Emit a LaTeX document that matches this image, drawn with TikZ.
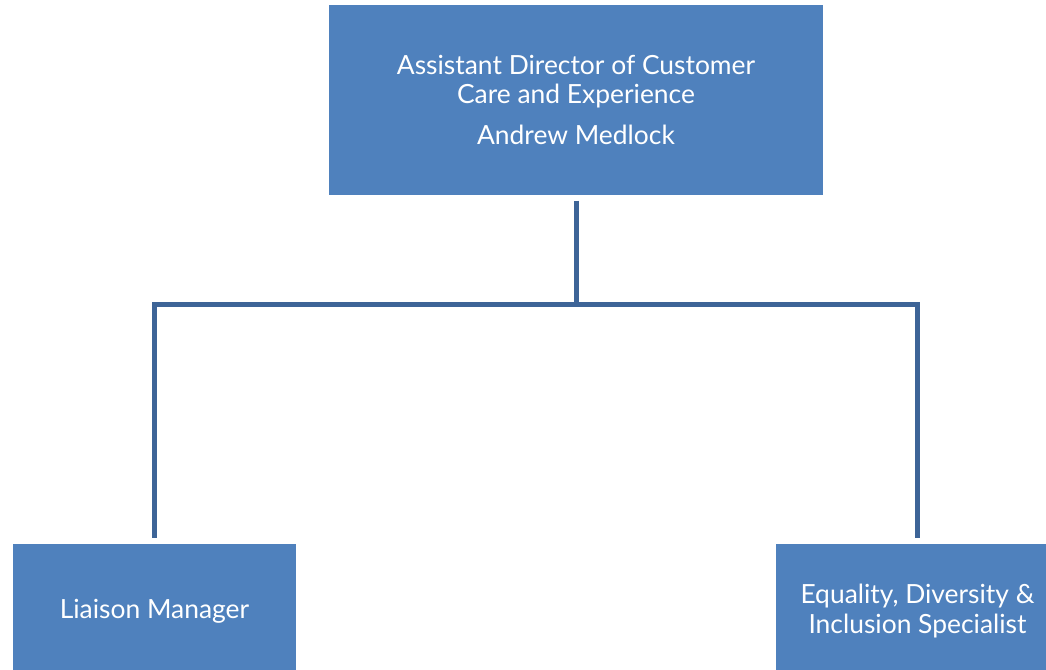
\documentclass[tikz,border=0pt]{standalone}
\usepackage{fontspec}
\setmainfont{Lato}
\definecolor{boxfill}{HTML}{4F81BD}
\definecolor{linecol}{HTML}{3D6497}
\begin{document}
\begin{tikzpicture}[x=0.75pt,y=-0.75pt,
  orgbox/.style={fill=boxfill,draw=none,text=white,align=center,inner sep=0pt,
    font=\fontsize{19.8}{22.2}\selectfont},
  conn/.style={draw=linecol,line width=3.75pt,shorten <=4.5pt,shorten >=4.5pt}]
\clip (0,0) rectangle (1046,670);
\fill[white] (0,0) rectangle (1046,670);
\node[orgbox,minimum width=370pt,minimum height=142pt] (top) at (576,100)
  {Assistant Director of Customer\\Care and Experience\\[8.5pt]Andrew Medlock};
\node[orgbox,minimum width=212pt,minimum height=100pt] (left) at (154.5,611)
  {Liaison Manager};
\node[orgbox,minimum width=213pt,minimum height=100pt] (right) at (917.5,611)
  {Equality, Diversity \&\\Inclusion Specialist};
\draw[conn] (top.south) -- ++(0,110) -| (left.north);
\draw[conn] (top.south) -- ++(0,110) -| (right.north);
\end{tikzpicture}
\end{document}
